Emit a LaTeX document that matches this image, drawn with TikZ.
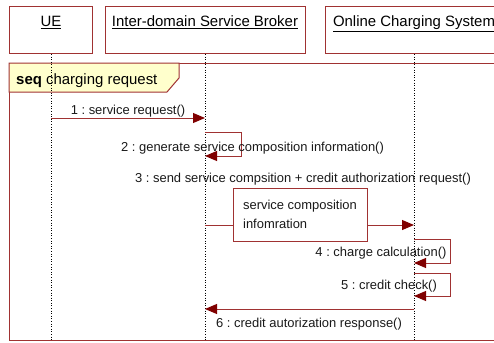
\documentclass[tikz,border=0pt]{standalone}
\usepackage{fontspec}
\setmainfont{Liberation Sans}
\usetikzlibrary{arrows.meta,positioning}
\definecolor{umlborder}{RGB}{160,50,50}
\definecolor{umlarrow}{RGB}{128,0,0}
\definecolor{umlnote}{RGB}{255,255,204}
\definecolor{umltext}{RGB}{25,25,25}
\frenchspacing

\begin{document}
\begin{tikzpicture}[x=1bp,y=-1bp,
  lifebox/.style={draw=umlborder,line width=1bp,minimum height=47bp,anchor=north,inner sep=0pt},
  lifetitle/.style={anchor=base,inner sep=0pt,text=black,font=\fontsize{15}{18}\selectfont},
  lifeline/.style={black,line width=0.6bp,dotted},
  msg/.style={draw=umlborder,line width=1bp,-{Triangle[length=12bp,width=10bp,color=umlarrow]}},
  msglabel/.style={inner sep=0pt,text=umltext,font=\fontsize{13}{15}\selectfont},
  notebox/.style={draw=umlborder,line width=1bp,fill=white,minimum width=134bp,minimum height=53bp,
    align=left,text=umltext,font=\fontsize{13}{19}\selectfont}]
\useasboundingbox (0,0) rectangle (494,342);
\clip (0,0) rectangle (494,342);

\node[lifebox,minimum width=82bp] (ue) at (51,6) {};
\node[lifebox,minimum width=200bp] (isb) at (205,6) {};
\node[lifebox,minimum width=178bp] (ocs) at (414,6) {};
\node[lifetitle] (ue-t) at ([yshift=-20.5bp]ue.north) {\underline{UE}};
\node[lifetitle] (isb-t) at ([yshift=-20.5bp]isb.north) {\underline{Inter-domain Service Broker}};
\node[lifetitle] (ocs-t) at ([yshift=-20.5bp]ocs.north) {\underline{Online Charging System}};

\node[draw=umlborder,line width=1bp,minimum width=491bp,minimum height=277bp,anchor=north west,inner sep=0pt] (frame) at (9,63) {};
\draw[draw=umlborder,line width=1bp,fill=umlnote] (frame.north west) -- ++(170,0) -- ++(0,15) -- ++(-12,14) -| cycle;
\node[anchor=base west,inner sep=0pt,text=black,font=\fontsize{15}{18}\selectfont] (seq) at (16,84.5) {\textbf{seq} charging request};

\foreach \l in {ue,isb,ocs}
  \draw[lifeline] (\l.south) -- (\l.south |- frame.south);

% messages
\coordinate (ue-1) at (51,118);
\coordinate (isb-1) at (205,118);
\coordinate (isb-2a) at (205,132);
\coordinate (isb-2b) at (205,156);
\coordinate (isb-3) at (205,225);
\coordinate (ocs-3) at (414,225);
\coordinate (ocs-4a) at (414,239);
\coordinate (ocs-4b) at (414,263);
\coordinate (ocs-5a) at (414,273);
\coordinate (ocs-5b) at (414,296);
\coordinate (ocs-6) at (414,309);
\coordinate (isb-6) at (205,309);

\draw[msg] (ue-1) -- (isb-1);
\node[msglabel,anchor=base] (m1) at (128,114) {1 : service request()};
\draw[msg] (isb-2a) -- ++(36,0) |- (isb-2b);
\node[msglabel,anchor=base] (m2) at (252.5,151) {2 : generate service composition information()};
\node[msglabel,anchor=base] (m3) at (303,182) {3 : send service compsition + credit authorization request()};
\draw[msg] (isb-3) -- (ocs-3);
\node[notebox] (info) at (300,214.5) {service composition\\infomration};
\draw[msg] (ocs-4a) -- ++(36,0) |- (ocs-4b);
\node[msglabel,anchor=base] (m4) at (381,256.5) {4 : charge calculation()};
\draw[msg] (ocs-5a) -- ++(36,0) |- (ocs-5b);
\node[msglabel,anchor=base] (m5) at (389,289.5) {5 : credit check()};
\draw[msg] (ocs-6) -- (isb-6);
\node[msglabel,anchor=base] (m6) at (309,327) {6 : credit autorization response()};
\end{tikzpicture}
\end{document}
